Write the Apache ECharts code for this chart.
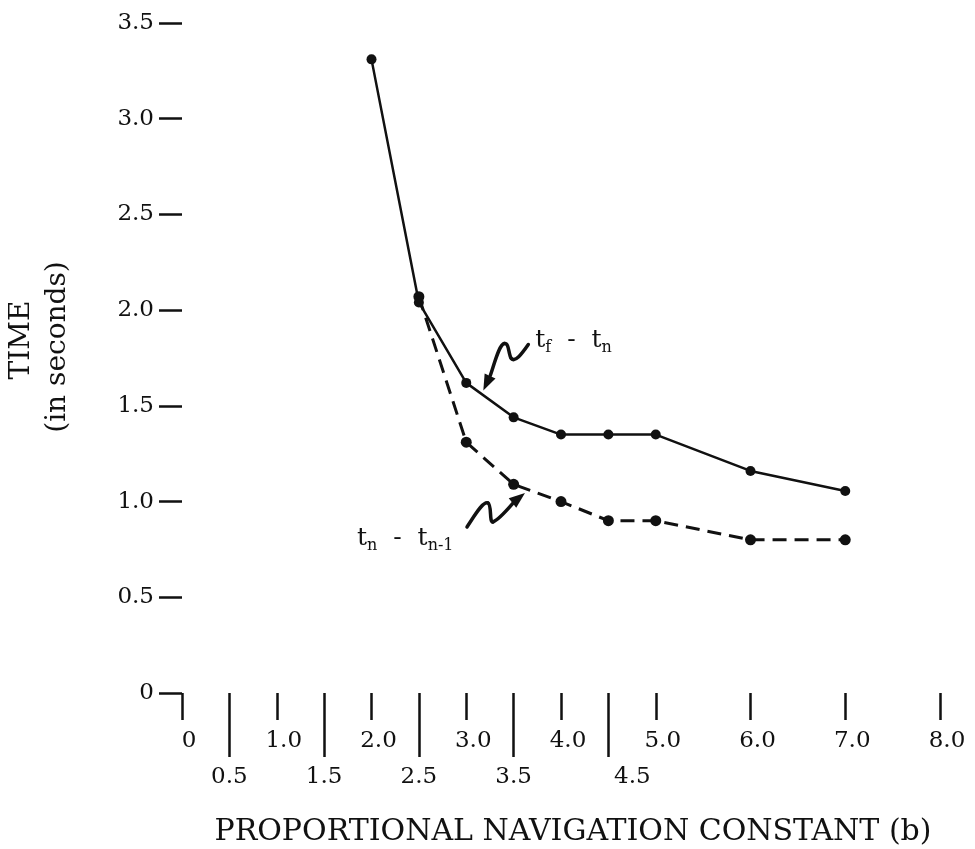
<!DOCTYPE html>
<html>
<head>
<meta charset="utf-8">
<script src="https://cdn.jsdelivr.net/npm/echarts@6/dist/echarts.min.js"></script>
<style>
html, body { margin: 0; padding: 0; background: #fff; }
#main { width: 975px; height: 849px; }
</style>
</head>
<body>
<div id="main"></div>
<script>
// proportional navigation constant b
var bSolid = [2.0, 2.5, 3.0, 3.5, 4.0, 4.5, 5.0, 6.0, 7.0];
// tf - tn (seconds)
var tfMinusTn = [3.31, 2.04, 1.62, 1.44, 1.35, 1.35, 1.35, 1.16, 1.055];
var bDashed = [2.5, 3.0, 3.5, 4.0, 4.5, 5.0, 6.0, 7.0];
// tn - tn-1 (seconds)
var tnMinusTn1 = [2.07, 1.31, 1.09, 1.00, 0.90, 0.90, 0.80, 0.80];
// axis ticks
var wholeTicks = [0, 1, 2, 3, 4, 5, 6, 7, 8];
var halfTicks = [0.5, 1.5, 2.5, 3.5, 4.5];

var ink = '#111';
var serif = 'DejaVu Serif';

function pairs(xs, ys) {
    var out = [];
    for (var i = 0; i < xs.length; i++) out.push([xs[i], ys[i]]);
    return out;
}
function fmt(v) {
    return v === 0 ? '0' : v.toFixed(1);
}

var myChart = echarts.init(document.getElementById('main'));

myChart.setOption({
    animation: false,
    backgroundColor: '#fff',
    grid: { left: 182, right: 35, top: 23, bottom: 156, containLabel: false, outerBoundsMode: 'none' },
    xAxis: [
        {
            type: 'value', min: 0, max: 8, position: 'bottom',
            axisLine: { show: false },
            splitLine: { show: false },
            axisTick: { show: true, customValues: wholeTicks, length: 27, lineStyle: { color: ink, width: 2.5 } },
            axisLabel: {
                customValues: wholeTicks, margin: 37, padding: [0, 0, 0, 14],
                fontFamily: serif, fontSize: 23, color: ink,
                formatter: fmt
            }
        },
        {
            type: 'value', min: 0, max: 8, position: 'bottom',
            axisLine: { show: false },
            splitLine: { show: false },
            axisTick: { show: true, customValues: halfTicks, length: 64, lineStyle: { color: ink, width: 2.5 } },
            axisLabel: {
                customValues: halfTicks, margin: 73,
                fontFamily: serif, fontSize: 23, color: ink,
                formatter: function (v) {
                    // the 4.5 label sits right of its tick in the original
                    return v === 4.5 ? '{r|' + fmt(v) + '}' : fmt(v);
                },
                rich: { r: { fontFamily: serif, fontSize: 23, color: ink, padding: [0, 0, 0, 48] } }
            }
        }
    ],
    yAxis: {
        type: 'value', min: 0, max: 3.5, interval: 0.5,
        axisLine: { show: false },
        splitLine: { show: false },
        axisTick: { show: true, length: 23, lineStyle: { color: ink, width: 2.5 } },
        axisLabel: { margin: 28, fontFamily: serif, fontSize: 23, color: ink, formatter: fmt }
    },
    series: [
        {
            name: 'tf - tn', type: 'line', xAxisIndex: 0,
            data: pairs(bSolid, tfMinusTn),
            symbol: 'circle', symbolSize: 10,
            lineStyle: { color: ink, width: 2.5 },
            itemStyle: { color: ink }
        },
        {
            name: 'tn - tn-1', type: 'line', xAxisIndex: 0,
            data: pairs(bDashed, tnMinusTn1),
            symbol: 'circle', symbolSize: 11,
            lineStyle: { color: ink, width: 3, type: [14, 8] },
            itemStyle: { color: ink }
        }
    ]
});

// annotations: squiggly arrows pointing at the curves
function arrowHead(tip, from, len, half) {
    var dx = tip[0] - from[0], dy = tip[1] - from[1];
    var d = Math.sqrt(dx * dx + dy * dy);
    var ux = dx / d, uy = dy / d;
    var bx = tip[0] - ux * len, by = tip[1] - uy * len;
    return [tip, [bx - uy * half, by + ux * half], [bx + uy * half, by - ux * half]];
}
// chain of cubic bezier segments, offsets given relative to the arrow tip
function squiggle(tip, pts) {
    var els = [];
    for (var i = 0; i + 3 < pts.length; i += 3) {
        els.push({
            type: 'bezierCurve',
            shape: {
                x1: tip[0] + pts[i][0], y1: tip[1] + pts[i][1],
                cpx1: tip[0] + pts[i + 1][0], cpy1: tip[1] + pts[i + 1][1],
                cpx2: tip[0] + pts[i + 2][0], cpy2: tip[1] + pts[i + 2][1],
                x2: tip[0] + pts[i + 3][0], y2: tip[1] + pts[i + 3][1]
            },
            style: { stroke: ink, lineWidth: 3.5, fill: null, lineCap: 'round' }
        });
    }
    return els;
}

var tip1 = myChart.convertToPixel({ gridIndex: 0 }, [3.18, 1.58]);
var tip2 = myChart.convertToPixel({ gridIndex: 0 }, [3.62, 1.045]);

var subRich = {
    m: { fontFamily: serif, fontSize: 25, fill: ink, color: ink, lineHeight: 30 },
    s: { fontFamily: serif, fontSize: 16, fill: ink, color: ink, lineHeight: 16, padding: [14, 0, 0, 0] }
};

var graphics = [
    {
        type: 'text', x: 22, y: 340, rotation: Math.PI / 2,
        style: { text: 'TIME', font: '28px "DejaVu Serif"', fill: ink, textAlign: 'center', textVerticalAlign: 'middle', align: 'center', verticalAlign: 'middle' }
    },
    {
        type: 'text', x: 58, y: 347, rotation: Math.PI / 2,
        style: { text: '(in seconds)', font: '28px "DejaVu Serif"', fill: ink, textAlign: 'center', textVerticalAlign: 'middle', align: 'center', verticalAlign: 'middle' }
    },
    {
        type: 'text', x: 573, y: 832,
        style: { text: 'PROPORTIONAL NAVIGATION CONSTANT (b)', font: '30px "DejaVu Serif"', fill: ink, textAlign: 'center', textVerticalAlign: 'middle', align: 'center', verticalAlign: 'middle' }
    },
    {
        type: 'text', x: tip1[0] + 52, y: tip1[1] - 50,
        style: { text: '{m|t}{s|f}{m|  -  t}{s|n}', rich: subRich, fill: ink, textVerticalAlign: 'middle', verticalAlign: 'middle' }
    },
    {
        type: 'text', x: tip2[0] - 168, y: tip2[1] + 46,
        style: { text: '{m|t}{s|n}{m|  -  t}{s|n-1}', rich: subRich, fill: ink, textVerticalAlign: 'middle', verticalAlign: 'middle' }
    },
    { type: 'polygon', shape: { points: arrowHead(tip1, [tip1[0] + 7, tip1[1] - 15], 16, 6) }, style: { fill: ink } },
    { type: 'polygon', shape: { points: arrowHead(tip2, [tip2[0] - 10, tip2[1] + 8], 16, 6) }, style: { fill: ink } }
];
graphics = graphics
    .concat(squiggle(tip1, [[45, -46], [38, -36], [32, -28], [28, -32], [25, -36], [26, -48], [21, -47], [16, -46], [12, -30], [7, -15]]))
    .concat(squiggle(tip2, [[-58, 34], [-50, 22], [-42, 8], [-37, 10], [-33, 12], [-36, 30], [-32, 29], [-26, 27], [-17, 16], [-10, 8]]));

myChart.setOption({ graphic: graphics });
</script>
</body>
</html>
